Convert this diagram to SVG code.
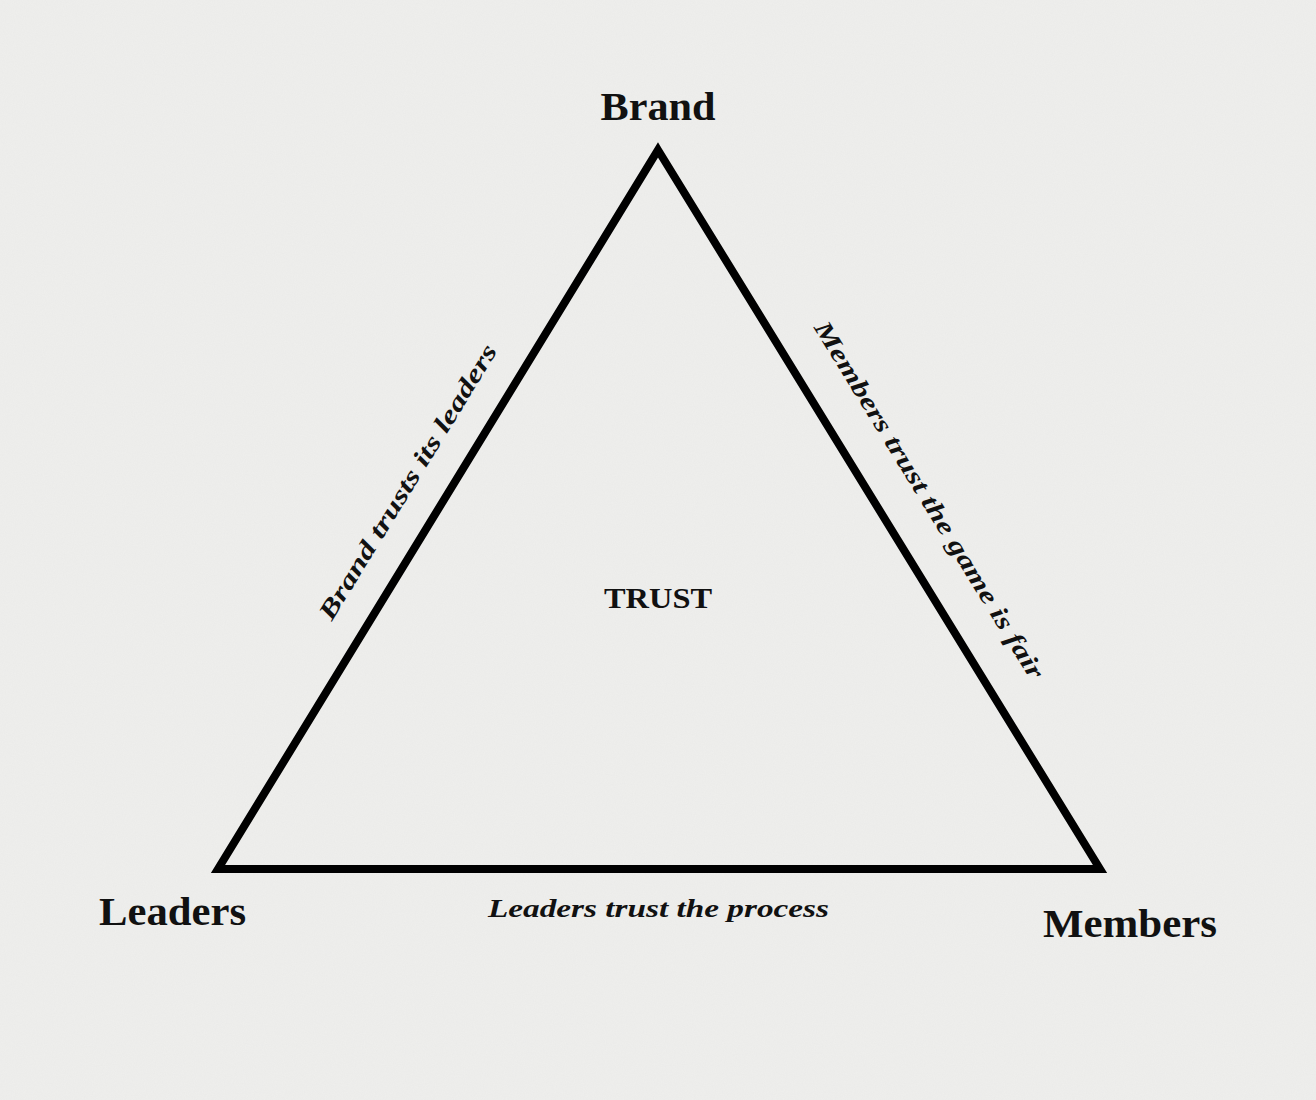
<svg xmlns="http://www.w3.org/2000/svg" width="1316" height="1100" viewBox="0 0 1316 1100">
  <defs>
    <filter id="paper" x="0" y="0" width="100%" height="100%">
      <feTurbulence type="fractalNoise" baseFrequency="0.9" numOctaves="3" seed="4" result="n"/>
      <feColorMatrix type="matrix" values="0 0 0 0 0.5  0 0 0 0 0.5  0 0 0 0 0.5  0 0 0 0.09 0" />
    </filter>
    <style>
      .lbl { font-family: "Liberation Serif", "DejaVu Serif", serif; font-weight: bold; fill: #111; text-anchor: middle; }
      .edge { font-family: "Liberation Serif", "DejaVu Serif", serif; font-weight: bold; font-style: italic; fill: #111; text-anchor: middle; }
    </style>
  </defs>
  <rect width="1316" height="1100" fill="#efefed"/>
  <rect width="1316" height="1100" filter="url(#paper)"/>

  <g id="connectors">
    <polygon points="658,150 1100,869 218,869" fill="none" stroke="#000" stroke-width="8" stroke-linejoin="miter"/>
  </g>

  <g id="node-brand">
    <text class="lbl" x="658" y="120" font-size="39" textLength="115" lengthAdjust="spacingAndGlyphs">Brand</text>
  </g>
  <g id="node-leaders">
    <text class="lbl" x="172.5" y="925" font-size="39" textLength="147" lengthAdjust="spacingAndGlyphs">Leaders</text>
  </g>
  <g id="node-members">
    <text class="lbl" x="1130" y="937" font-size="39" textLength="174" lengthAdjust="spacingAndGlyphs">Members</text>
  </g>
  <g id="node-trust">
    <text class="lbl" x="658" y="608" font-size="29" textLength="108" lengthAdjust="spacingAndGlyphs">TRUST</text>
  </g>

  <g id="edge-labels">
    <text class="edge" transform="translate(408,482) rotate(-58.5)" x="0" y="8" font-size="25" textLength="318" lengthAdjust="spacingAndGlyphs">Brand trusts its leaders</text>
    <text class="edge" transform="translate(929,500) rotate(58.4)" x="0" y="8" font-size="25" textLength="415" lengthAdjust="spacingAndGlyphs">Members trust the game is fair</text>
    <text class="edge" x="658.5" y="917" font-size="25" textLength="341" lengthAdjust="spacingAndGlyphs">Leaders trust the process</text>
  </g>
</svg>
